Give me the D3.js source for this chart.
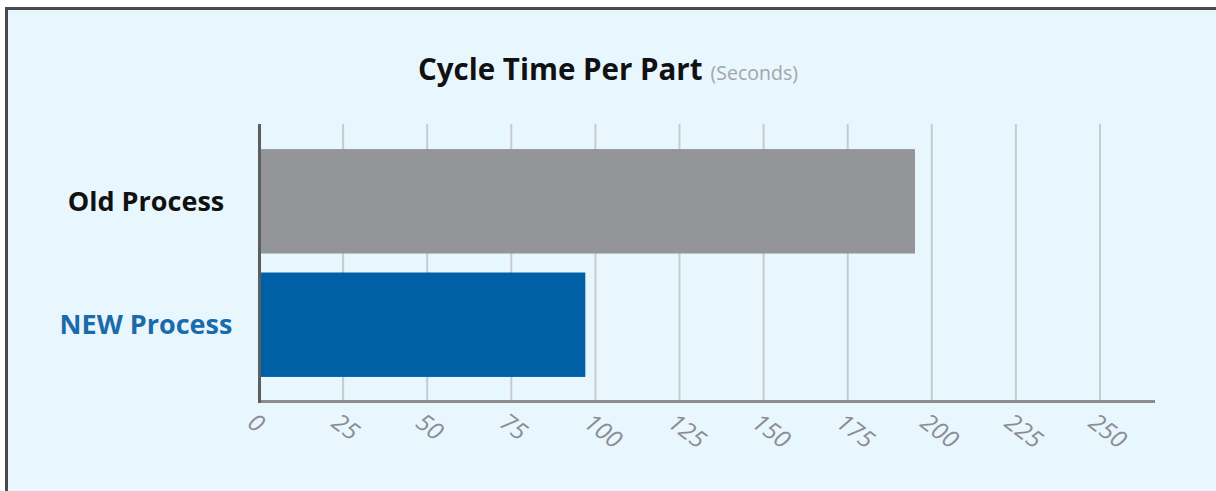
<!DOCTYPE html>
<html>
<head>
<meta charset="utf-8">
<script src="https://cdn.jsdelivr.net/npm/d3@7"></script>
<style>
  html, body { margin: 0; padding: 0; background: #fff; }
  svg { display: block; }
</style>
</head>
<body>
<div id="chart"></div>
<script>
const categories = ["Old Process", "NEW Process"];
const cycleSeconds = [195, 97];
const tickValues = [0, 25, 50, 75, 100, 125, 150, 175, 200, 225, 250];
const titleText = "Cycle Time Per Part";
const unitText = "(Seconds)";

const width = 1216, height = 491;
const barColors = ["#939598", "#0060a6"];
const labelColors = ["#111111", "#1b6bab"];

const svg = d3.select("#chart")
  .append("svg")
  .attr("width", width)
  .attr("height", height);

// panel background + frame (only top and left edges are in view)
svg.append("rect")
  .attr("x", 0).attr("y", 0)
  .attr("width", width).attr("height", height)
  .attr("fill", "#ffffff");
svg.append("rect")
  .attr("x", 7).attr("y", 9)
  .attr("width", width).attr("height", height)
  .attr("fill", "#e8f6fe");
svg.append("path")
  .attr("d", `M6.5,${height} V8.5 H${width}`)
  .attr("fill", "none")
  .attr("stroke", "#4a4a4a")
  .attr("stroke-width", 3);

const x = d3.scaleLinear()
  .domain([0, 250])
  .range([259, 1100]);

const y = d3.scaleBand()
  .domain(categories)
  .range([125, 401])
  .paddingInner(0.154)
  .paddingOuter(0.195);

// grid lines
svg.append("g")
  .selectAll("line")
  .data(tickValues.filter(d => d > 0))
  .join("line")
  .attr("x1", d => x(d)).attr("x2", d => x(d))
  .attr("y1", 124).attr("y2", 401)
  .attr("stroke", "#c6cbcf")
  .attr("stroke-width", 2);

// bars
svg.append("g")
  .selectAll("rect")
  .data(categories)
  .join("rect")
  .attr("x", x(0) + 1)
  .attr("y", d => y(d))
  .attr("width", (d, i) => x(cycleSeconds[i]) - x(0) - 1)
  .attr("height", y.bandwidth())
  .attr("fill", (d, i) => barColors[i]);

// x axis
const xAxis = d3.axisBottom(x)
  .tickValues(tickValues)
  .tickSize(0)
  .tickPadding(0);

const gx = svg.append("g")
  .attr("transform", "translate(0,401)")
  .call(xAxis);
gx.select(".domain").remove();
gx.selectAll(".tick text")
  .attr("fill", "#8b8d90")
  .attr("font-family", "'Open Sans', sans-serif")
  .attr("font-style", "italic")
  .attr("font-size", 24)
  .attr("text-anchor", "start")
  .attr("dy", 0)
  .attr("transform", "translate(-1,8) rotate(37)")
  .attr("dominant-baseline", "hanging");

svg.append("line")
  .attr("x1", 258).attr("x2", 1155)
  .attr("y1", 401.5).attr("y2", 401.5)
  .attr("stroke", "#8a8c8e")
  .attr("stroke-width", 3);

svg.append("line")
  .attr("x1", 259.5).attr("x2", 259.5)
  .attr("y1", 124).attr("y2", 403)
  .attr("stroke", "#5c5e60")
  .attr("stroke-width", 3);

// category labels
svg.append("g")
  .selectAll("text")
  .data(categories)
  .join("text")
  .attr("x", 146)
  .attr("y", d => y(d) + y.bandwidth() / 2)
  .attr("dy", "0.35em")
  .attr("text-anchor", "middle")
  .attr("font-family", "'Open Sans', sans-serif")
  .attr("font-weight", "bold")
  .attr("font-size", 27)
  .attr("fill", (d, i) => labelColors[i])
  .text(d => d);

// title
const title = svg.append("text")
  .attr("x", 418)
  .attr("y", 80)
  .attr("font-family", "'Open Sans', sans-serif");
title.append("tspan")
  .attr("font-weight", "bold")
  .attr("font-size", 29.5)
  .attr("fill", "#111")
  .text(titleText);
title.append("tspan")
  .attr("dx", 8)
  .attr("font-size", 19.5)
  .attr("fill", "#a3a5a8")
  .text(unitText);
</script>
</body>
</html>
